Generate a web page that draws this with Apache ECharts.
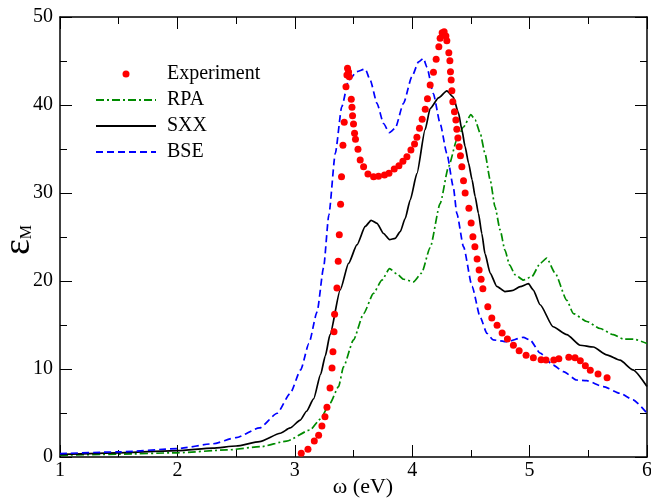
<!DOCTYPE html>
<html>
<head>
<meta charset="utf-8">
<script src="https://cdn.jsdelivr.net/npm/echarts@6/dist/echarts.min.js"></script>
<style>html,body{margin:0;padding:0;background:#fff}#c{width:651px;height:504px}</style>
</head>
<body>
<div id="c"></div>
<script>
// ---- data ----
var xTicks = [1, 2, 3, 4, 5, 6];
var yTicks = [0, 10, 20, 30, 40, 50];

var expX = [3.055,3.112,3.166,3.203,3.231,3.257,3.274,3.300,3.317,3.325,3.334,3.339,3.359,3.370,3.379,3.390,3.398,3.410,3.421,3.436,3.444,3.449,3.458,3.464,3.481,3.487,3.492,3.500,3.509,3.517,3.538,3.557,3.586,3.623,3.671,3.713,3.764,3.802,3.847,3.887,3.921,3.955,3.989,4.020,4.040,4.062,4.085,4.111,4.130,4.153,4.181,4.204,4.227,4.238,4.255,4.272,4.287,4.295,4.312,4.321,4.326,4.332,4.338,4.346,4.360,4.372,4.380,4.389,4.400,4.411,4.423,4.437,4.451,4.483,4.502,4.517,4.534,4.553,4.570,4.587,4.602,4.644,4.678,4.723,4.766,4.811,4.862,4.911,4.970,5.032,5.098,5.140,5.206,5.249,5.334,5.387,5.432,5.475,5.517,5.583,5.660];
var expY = [0.42,0.88,1.82,2.47,3.52,4.58,5.65,7.84,10.11,11.97,14.24,16.22,19.20,22.24,25.26,28.72,31.85,35.42,38.03,42.08,43.41,44.17,43.75,43.2,40.65,39.74,38.78,37.84,36.78,36.10,34.97,33.75,32.99,32.16,31.85,31.90,32.05,32.24,32.73,33.10,33.60,34.13,34.89,35.57,36.33,37.35,38.38,39.51,40.72,42.27,43.72,45.19,46.63,47.58,48.22,48.33,47.84,47.31,45.94,45.03,43.78,42.84,41.63,40.38,39.24,38.30,37.24,36.25,35.26,34.24,32.99,31.4,30.0,28.26,26.59,25.03,23.90,22.50,21.25,20.19,19.13,17.08,15.80,14.97,14.09,13.41,12.69,12.08,11.56,11.28,11.06,11.02,11.02,11.17,11.33,11.28,10.94,10.38,9.85,9.43,9.01];

var rpaX = [1.0,1.5,2.0,2.42,2.71,2.93,3.13,3.217,3.30,3.373,3.415,3.50,3.586,3.67,3.742,3.807,3.87,3.926,4.011,4.08,4.153,4.238,4.31,4.38,4.437,4.50,4.536,4.579,4.62,4.664,4.706,4.749,4.79,4.83,4.877,4.947,5.019,5.09,5.146,5.217,5.317,5.373,5.487,5.60,5.713,5.80,5.883,6.0];
var rpaY = [0.2,0.32,0.48,0.8,1.17,1.8,3.07,4.3,6.1,8.0,10.26,13.3,16.3,18.6,20.1,21.4,20.8,20.2,19.9,20.9,23.8,28.8,33.0,36.0,37.5,38.9,38.3,36.8,34.5,31.5,28.4,25.8,23.5,21.8,20.7,20.1,20.5,22.0,22.6,20.9,17.8,16.3,15.4,14.6,13.9,13.4,13.4,12.9];

var sxxX = [1.0,1.5,2.0,2.3,2.5,2.7,2.877,2.96,3.047,3.10,3.16,3.22,3.26,3.30,3.387,3.458,3.529,3.60,3.65,3.70,3.756,3.807,3.855,3.898,3.94,3.983,4.04,4.11,4.153,4.224,4.295,4.35,4.394,4.423,4.45,4.48,4.51,4.536,4.564,4.593,4.62,4.664,4.72,4.79,4.85,4.92,4.99,5.03,5.09,5.20,5.317,5.43,5.543,5.657,5.77,5.88,6.0];
var sxxY = [0.3,0.48,0.72,1.0,1.25,1.75,2.7,3.3,4.2,5.2,6.6,9.4,11.5,13.9,19.0,22.0,24.1,26.2,26.9,26.55,25.4,24.7,24.85,25.6,27.1,29.2,32.2,37.2,39.6,40.8,41.6,40.9,39.1,37.2,35.3,33.4,31.5,29.6,27.7,25.4,23.1,20.9,19.4,18.8,18.9,19.35,19.7,19.0,17.3,14.8,13.9,12.7,12.5,11.6,11.0,9.9,8.0];

var bseX = [1.0,1.5,2.0,2.3,2.5,2.7,2.85,2.96,3.05,3.12,3.19,3.245,3.29,3.345,3.40,3.458,3.53,3.60,3.643,3.70,3.756,3.804,3.855,3.926,3.997,4.054,4.096,4.125,4.18,4.238,4.295,4.35,4.38,4.437,4.51,4.579,4.636,4.69,4.806,4.947,5.004,5.09,5.20,5.288,5.40,5.487,5.628,5.77,5.88,6.0];
var bseY = [0.38,0.58,0.95,1.5,2.2,3.3,4.97,7.2,9.9,12.9,16.5,21.5,27.5,34.5,39.8,42.8,43.8,44.1,42.8,40.2,37.9,36.85,37.35,40.2,43.2,44.9,45.3,44.3,41.3,37.9,34.5,30.7,27.7,23.9,19.4,15.9,14.06,13.3,13.1,13.6,13.3,11.8,10.45,9.7,8.75,8.67,8.0,7.24,6.5,4.97];

var names = ['Experiment', 'RPA', 'SXX', 'BSE'];

function pairs(xs, ys) { return xs.map(function (x, i) { return [x, ys[i]]; }); }

var FONT = '"Liberation Serif", "Times New Roman", serif';
var chart = echarts.init(document.getElementById('c'), null, { renderer: 'canvas' });

function axisCommon(showLabel) {
  return {
    axisLine: { show: true, onZero: false, lineStyle: { color: '#000', width: 1.5 } },
    axisTick: { show: true, inside: true, length: 12, lineStyle: { color: '#000', width: 1 } },
    minorTick: { show: true, splitNumber: 2, length: 7, lineStyle: { color: '#000', width: 1 } },
    splitLine: { show: false },
    axisLabel: { show: showLabel, fontFamily: FONT, fontSize: 20, color: '#000' }
  };
}

var xMain = Object.assign(axisCommon(true), {
  type: 'value', min: xTicks[0], max: xTicks[xTicks.length - 1], interval: 1, position: 'bottom',
  name: 'ω (eV)', nameLocation: 'middle', nameGap: 19, nameMoveOverlap: false,
  nameTextStyle: { fontFamily: FONT, fontSize: 22, color: '#000', padding: [0, 0, 0, 19] }
});
xMain.axisLabel.margin = 4;
var xTop = Object.assign(axisCommon(false), {
  type: 'value', min: xTicks[0], max: xTicks[xTicks.length - 1], interval: 1, position: 'top'
});
var yMain = Object.assign(axisCommon(true), {
  type: 'value', min: yTicks[0], max: yTicks[yTicks.length - 1], interval: 10, position: 'left',
  name: '{e|ε}{m|M}', nameLocation: 'middle', nameGap: 22, nameRotate: 90, nameMoveOverlap: false,
  nameTextStyle: {
    color: '#000',
    padding: [0, 6, 0, 0],
    rich: {
      e: { fontFamily: FONT, fontSize: 38, color: '#000' },
      m: { fontFamily: FONT, fontSize: 16, color: '#000', padding: [16, 0, 0, 0] }
    }
  }
});
yMain.axisLabel.margin = 7;
var yRight = Object.assign(axisCommon(false), {
  type: 'value', min: yTicks[0], max: yTicks[yTicks.length - 1], interval: 10, position: 'right'
});

var noDot = { color: 'rgba(0,0,0,0)', borderWidth: 0 };

var option = {
  backgroundColor: '#fff',
  animation: false,
  grid: { left: 60, right: 4, top: 17, bottom: 47, containLabel: false, outerBoundsMode: 'none' },
  legend: {
    orient: 'vertical', left: 95, top: 64, padding: 0, itemWidth: 60, itemHeight: 7, itemGap: 6,
    textStyle: { fontFamily: FONT, fontSize: 20, color: '#000', padding: [0, 0, 0, 6] },
    data: [
      { name: names[0], icon: 'circle' },
      { name: names[1], itemStyle: noDot },
      { name: names[2], itemStyle: noDot },
      { name: names[3], itemStyle: noDot }
    ]
  },
  xAxis: [xMain, xTop],
  yAxis: [yMain, yRight],
  series: [
    { name: names[0], type: 'scatter', xAxisIndex: 0, yAxisIndex: 0, data: pairs(expX, expY),
      symbol: 'circle', symbolSize: 7, itemStyle: { color: '#ff0000', opacity: 1 }, z: 5 },
    { name: names[1], type: 'line', xAxisIndex: 0, yAxisIndex: 0, data: pairs(rpaX, rpaY),
      symbol: 'none', smooth: 0.2, smoothMonotone: 'x', itemStyle: { color: '#008b00' },
      lineStyle: { color: '#008b00', width: 1.7, type: [8, 3, 2, 3] } },
    { name: names[2], type: 'line', xAxisIndex: 0, yAxisIndex: 0, data: pairs(sxxX, sxxY),
      symbol: 'none', smooth: 0.2, smoothMonotone: 'x', itemStyle: { color: '#000' },
      lineStyle: { color: '#000', width: 1.7, type: 'solid' } },
    { name: names[3], type: 'line', xAxisIndex: 0, yAxisIndex: 0, data: pairs(bseX, bseY),
      symbol: 'none', smooth: 0.2, smoothMonotone: 'x', itemStyle: { color: '#0000ff' },
      lineStyle: { color: '#0000ff', width: 1.7, type: [7, 4] } }
  ]
};
chart.setOption(option);
</script>
</body>
</html>
